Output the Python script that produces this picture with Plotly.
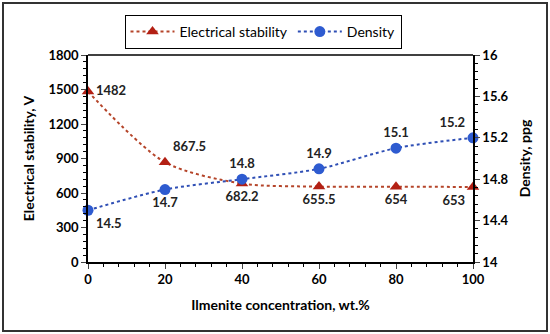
import plotly.graph_objects as go

concentration = [0, 20, 40, 60, 80, 100]
electrical_stability = [1482, 867.5, 682.2, 655.5, 654, 653]
density = [14.5, 14.7, 14.8, 14.9, 15.1, 15.2]
es_labels = ["1482", "867.5", "682.2", "655.5", "654", "653"]
den_labels = ["14.5", "14.7", "14.8", "14.9", "15.1", "15.2"]
es_pos = ["middle right", "top right", "bottom center", "bottom center", "bottom center", "bottom left"]
den_pos = ["bottom right", "bottom center", "top center", "top center", "top center", "top left"]

FONT = "Lato"

fig = go.Figure()
fig.add_trace(go.Scatter(
    x=concentration, y=electrical_stability, name="Electrical stability",
    mode="lines+markers+text", text=es_labels, textposition=es_pos,
    textfont=dict(family=FONT, size=13, color="#222", weight="bold"),
    line=dict(color="#B5452A", width=2, dash="dot", shape="spline", smoothing=0.8),
    marker=dict(symbol="triangle-up", size=11, color="#B32014"),
    cliponaxis=False, yaxis="y"))
fig.add_trace(go.Scatter(
    x=concentration, y=density, name="Density",
    mode="lines+markers+text", text=den_labels, textposition=den_pos,
    textfont=dict(family=FONT, size=13, color="#222", weight="bold"),
    line=dict(color="#2F4FB5", width=2, dash="dot", shape="spline", smoothing=0.8),
    marker=dict(symbol="circle", size=11, color="#2E5BD0"),
    cliponaxis=False, yaxis="y2"))

W, H = 550, 334
l, r, t, b = 88, 77, 55, 72
pw, ph = W - l - r, H - t - b

def px(x):
    return (x - l) / pw

def py(y):
    return (H - b - y) / ph

fig.update_layout(
    width=W, height=H, margin=dict(l=l, r=r, t=t, b=b, autoexpand=False),
    paper_bgcolor="white", plot_bgcolor="white",
    font=dict(family=FONT, size=13, color="black"),
    showlegend=True,
    legend=dict(orientation="h", x=px(263), xanchor="center", y=py(15), yanchor="top",
                bordercolor="black", borderwidth=1, font=dict(family=FONT, size=14, color="black"),
                itemwidth=44, bgcolor="white", tracegroupgap=20),
    xaxis=dict(range=[0, 100], tickvals=concentration, ticks="outside", ticklen=5,
               tickfont=dict(family=FONT, size=13, color="black", weight="bold"),
               showline=True, linecolor="black", linewidth=1.5, mirror=False, showgrid=False,
               zeroline=False, automargin=False,
               minor=dict(dtick=4, ticks="outside", ticklen=3, tickcolor="black"),
               title=dict(text="Ilmenite concentration, wt.%", font=dict(family=FONT, size=14, weight="bold"), standoff=14)),
    yaxis=dict(range=[0, 1800], dtick=300, ticks="outside", ticklen=5,
               tickfont=dict(family=FONT, size=13, color="black", weight="bold"),
               showline=True, linecolor="black", linewidth=1.5, showgrid=False, zeroline=False,
               automargin=False,
               minor=dict(dtick=60, ticks="outside", ticklen=3, tickcolor="black"),
               title=dict(text="Electrical stability, V", font=dict(family=FONT, size=14, weight="bold"), standoff=11)),
    yaxis2=dict(range=[14, 16], dtick=0.4, overlaying="y", side="right", ticks="outside", ticklen=5,
                tickfont=dict(family=FONT, size=13, color="black", weight="bold"),
                showline=True, linecolor="black", linewidth=1.5, showgrid=False, zeroline=False,
                automargin=False,
                minor=dict(dtick=0.08, ticks="outside", ticklen=3, tickcolor="black"),
                title=dict(text="Density, ppg", font=dict(family=FONT, size=14, weight="bold"), standoff=13)),
)
# top border of plot area
fig.add_shape(type="line", xref="paper", yref="paper", x0=0, x1=1, y0=1, y1=1,
              line=dict(color="black", width=1.5))
# outer frame
fig.add_shape(type="rect", xref="paper", yref="paper",
              x0=px(3), x1=px(547), y0=py(331), y1=py(3),
              line=dict(color="#333", width=2))

fig.write_html("out.html", config={"displayModeBar": False},
               post_script="document.body.style.margin='0';document.body.style.overflow='hidden';")
